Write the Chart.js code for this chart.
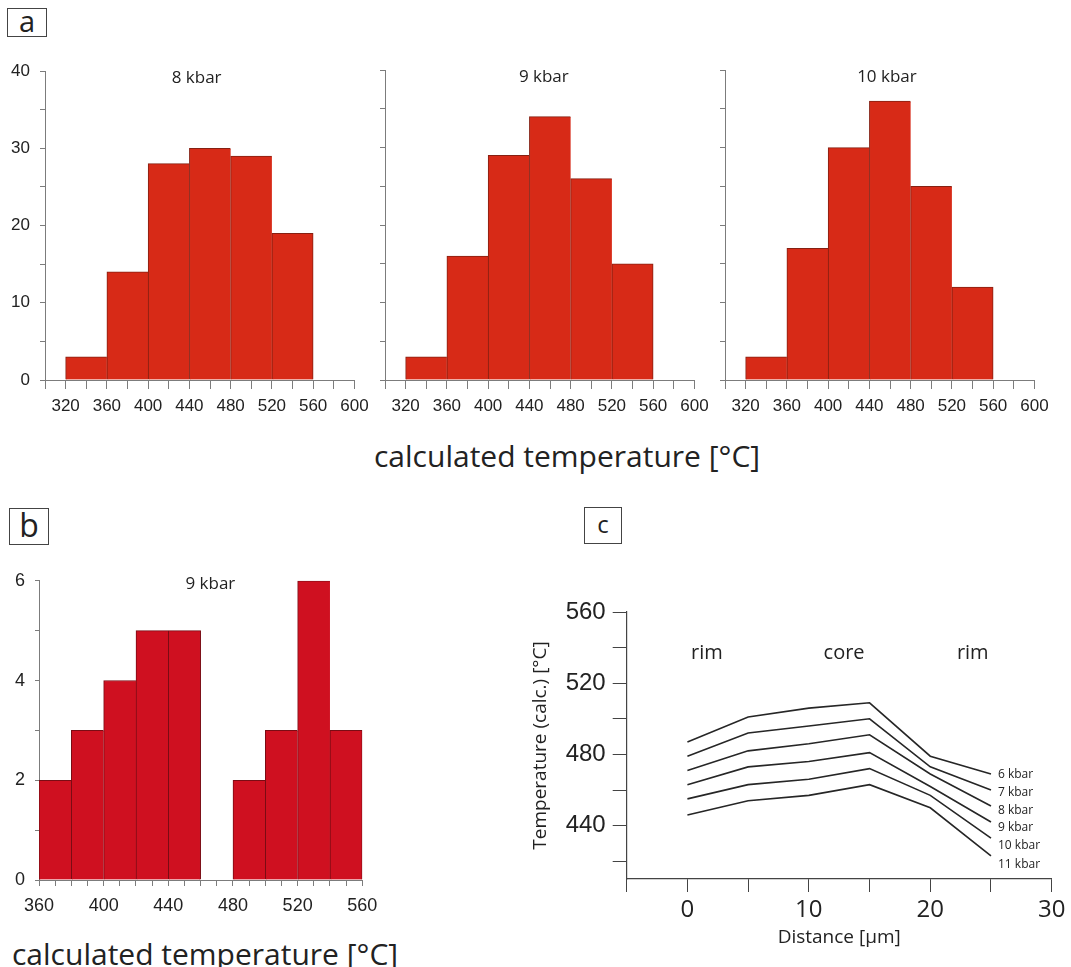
<!DOCTYPE html>
<html lang="en">
<head>
<meta charset="UTF-8">
<title>Calculated temperatures</title>
<script src="https://cdn.jsdelivr.net/npm/chart.js"></script>
<style>
  body {
    margin: 0;
    width: 1071px;
    height: 967px;
    position: relative;
    overflow: hidden;
    background: #fff;
    font-family: 'Open Sans', sans-serif;
    color: #222;
  }
  canvas { position: absolute; }
  .tag {
    position: absolute;
    box-sizing: border-box;
    border: 1px solid #444;
    display: flex;
    align-items: center;
    justify-content: center;
    line-height: 1;
    color: #222;
  }
  .axis-title {
    position: absolute;
    white-space: nowrap;
    line-height: 1;
    color: #222;
  }
</style>
</head>
<body>
<div class="tag" style="left:7px;top:8px;width:40px;height:29px;font-size:29px;padding-bottom:4px">a</div>
<div class="tag" style="left:9px;top:508px;width:40px;height:37px;font-size:32px;padding-bottom:3px">b</div>
<div class="tag" style="left:584px;top:507px;width:38px;height:37px;font-size:24px;padding-bottom:3px">c</div>

<canvas id="hist8" width="385" height="380" style="left:0;top:50px"></canvas>
<canvas id="hist9" width="365" height="380" style="left:360px;top:50px"></canvas>
<canvas id="hist10" width="371" height="380" style="left:700px;top:50px"></canvas>
<div class="axis-title" style="left:374px;top:441px;font-size:30px">calculated temperature [°C]</div>

<canvas id="histB" width="395" height="360" style="left:0;top:560px"></canvas>
<div class="axis-title" style="left:12px;top:939px;font-size:30px">calculated temperature [°C]</div>

<canvas id="profile" width="551" height="387" style="left:520px;top:580px"></canvas>

<script>
// panel a: histograms, bins 40 degC wide
const binStartsA = [320, 360, 400, 440, 480, 520];
const counts8kbar = [3, 14, 28, 30, 29, 19];
const counts9kbar = [3, 16, 29, 34, 26, 15];
const counts10kbar = [3, 17, 30, 36, 25, 12];
const xTicksA = [300, 320, 340, 360, 380, 400, 420, 440, 460, 480, 500, 520, 540, 560, 580, 600];
const xLabelsA = [320, 360, 400, 440, 480, 520, 560, 600];
const yTicksA = [0, 5, 10, 15, 20, 25, 30, 35, 40];
const yLabelsA = [0, 10, 20, 30, 40];

// panel b: 9 kbar, bins 20 degC wide (nothing in 460-480)
const binStartsB = [360, 380, 400, 420, 440, 480, 500, 520, 540];
const countsB = [2, 3, 4, 5, 5, 2, 3, 6, 3];
const xTicksB = [360, 370, 380, 390, 400, 410, 420, 430, 440, 450, 460, 470, 480, 490, 500, 510, 520, 530, 540, 550, 560];
const xLabelsB = [360, 400, 440, 480, 520, 560];
const yTicksB = [0, 1, 2, 3, 4, 5, 6];
const yLabelsB = [0, 2, 4, 6];

// panel c: temperature profiles across the grain
const distanceC = [0, 5, 10, 15, 20, 25];
const pressureNames = ['6 kbar', '7 kbar', '8 kbar', '9 kbar', '10 kbar', '11 kbar'];
const temp6kbar = [487, 501, 506, 509, 479, 469];
const temp7kbar = [479, 492, 496, 500, 473, 460];
const temp8kbar = [471, 482, 486, 491, 469, 451];
const temp9kbar = [463, 473, 476, 481, 462, 442];
const temp10kbar = [455, 463, 466, 472, 457, 433];
const temp11kbar = [446, 454, 457, 463, 450, 423];
const xTicksC = [-5, 0, 5, 10, 15, 20, 25, 30];
const xLabelsC = [0, 10, 20, 30];
const yTicksC = [420, 440, 460, 480, 500, 520, 540, 560];
const yLabelsC = [440, 480, 520, 560];
const zoneNames = ['rim', 'core', 'rim'];
const zoneDistance = [1.6, 12.9, 23.5];

const AXIS_GREY = '#7c7c7c';
const TEXT = '#222';
const TICK_FONT = 'Liberation Sans, Arial, sans-serif';
const LABEL_FONT = 'Open Sans, sans-serif';

// draws free text placed in data units, and names at the end of each line
const textPlugin = {
    id: 'panelText',
    afterDatasetsDraw(chart, args, opts) {
        const ctx = chart.ctx;
        const xs = chart.scales.x;
        const ys = chart.scales.y;
        ctx.save();
        ctx.fillStyle = TEXT;
        ctx.textBaseline = 'middle';
        (opts.items || []).forEach(it => {
            ctx.font = it.font;
            ctx.textAlign = 'center';
            ctx.fillText(it.text, xs.getPixelForValue(it.x), ys.getPixelForValue(it.y));
        });
        if (opts.seriesFont) {
            ctx.font = opts.seriesFont;
            ctx.textAlign = 'left';
            chart.data.datasets.forEach((ds, i) => {
                const pts = chart.getDatasetMeta(i).data;
                const end = pts[pts.length - 1];
                ctx.fillText(ds.label, end.x + 7, end.y + 1 + i * 1.6);
            });
        }
        ctx.restore();
    }
};

function makeHistogram(id, o) {
    const centers = o.binStarts.map(b => b + o.binWidth / 2);
    const last = o.binStarts.length - 1;
    return new Chart(document.getElementById(id), {
        type: 'bar',
        data: {
            datasets: [{
                data: centers.map((c, i) => ({ x: c, y: o.counts[i] })),
                xAxisID: 'xBin',
                backgroundColor: o.fill,
                borderColor: o.edge,
                borderWidth: ctx => {
                    const i = ctx.dataIndex;
                    const closes = i === last || o.binStarts[i + 1] !== o.binStarts[i] + o.binWidth;
                    return { top: 1, left: 1, right: closes ? 1 : 0, bottom: 0 };
                },
                borderSkipped: false,
                barPercentage: 1,
                categoryPercentage: 1
            }]
        },
        options: {
            responsive: false,
            animation: false,
            events: [],
            layout: { padding: o.padding },
            plugins: {
                legend: { display: false },
                tooltip: { enabled: false },
                panelText: { items: o.texts }
            },
            scales: {
                x: {
                    type: 'linear',
                    offset: false,
                    min: o.xMin,
                    max: o.xMax,
                    afterBuildTicks: s => { s.ticks = o.xTicks.map(v => ({ value: v })); },
                    afterFit: s => { s.height = o.xAxisHeight; },
                    grid: { offset: false, drawOnChartArea: false, drawTicks: true, tickLength: o.xTickLen, color: AXIS_GREY },
                    border: { color: AXIS_GREY },
                    ticks: {
                        autoSkip: false, maxRotation: 0, padding: o.xPad, color: TEXT,
                        font: { family: TICK_FONT, size: o.fontSize },
                        callback: v => o.xLabels.includes(v) ? String(v) : ''
                    }
                },
                // hidden twin axis so the bar width follows the bin width, not the tick spacing
                xBin: {
                    type: 'linear',
                    display: false,
                    offset: false,
                    min: o.xMin,
                    max: o.xMax,
                    afterBuildTicks: s => { s.ticks = centers.map(v => ({ value: v })); }
                },
                y: {
                    min: o.yMin,
                    max: o.yMax,
                    afterBuildTicks: s => { s.ticks = o.yTicks.map(v => ({ value: v })); },
                    afterFit: s => { s.width = o.yAxisWidth; },
                    grid: { drawOnChartArea: false, drawTicks: true, tickLength: o.yTickLen, color: AXIS_GREY },
                    border: { color: AXIS_GREY },
                    ticks: {
                        autoSkip: false, padding: o.yPad, color: TEXT,
                        font: { family: TICK_FONT, size: o.fontSize },
                        callback: v => o.yLabels.includes(v) ? String(v) : ''
                    }
                }
            }
        },
        plugins: [textPlugin]
    });
}

const panelA = {
    binStarts: binStartsA, binWidth: 40,
    xMin: 300, xMax: 600, xTicks: xTicksA, xLabels: xLabelsA,
    yMin: 0, yMax: 40, yTicks: yTicksA,
    fill: '#d72a17', edge: '#862012',
    xAxisHeight: 50, xTickLen: 9, xPad: 7,
    yTickLen: 5, yPad: 10, fontSize: 17
};
const titleFontA = '17px ' + LABEL_FONT;

makeHistogram('hist8', Object.assign({}, panelA, {
    counts: counts8kbar, yLabels: yLabelsA, yAxisWidth: 45,
    padding: { top: 21, right: 30.6, left: 0, bottom: 0 },
    texts: [{ text: '8 kbar', x: 447, y: 39.1, font: titleFontA }]
}));
makeHistogram('hist9', Object.assign({}, panelA, {
    counts: counts9kbar, yLabels: [], yAxisWidth: 25,
    padding: { top: 20, right: 30.6, left: 0, bottom: 0 },
    texts: [{ text: '9 kbar', x: 454, y: 39.1, font: titleFontA }]
}));
makeHistogram('hist10', Object.assign({}, panelA, {
    counts: counts10kbar, yLabels: [], yAxisWidth: 25,
    padding: { top: 20, right: 36.6, left: 0, bottom: 0 },
    texts: [{ text: '10 kbar', x: 457, y: 39.1, font: titleFontA }]
}));

makeHistogram('histB', {
    binStarts: binStartsB, binWidth: 20, counts: countsB,
    xMin: 360, xMax: 560, xTicks: xTicksB, xLabels: xLabelsB,
    yMin: 0, yMax: 6, yTicks: yTicksB, yLabels: yLabelsB,
    fill: '#cf1020', edge: '#7a0c14',
    xAxisHeight: 40, xTickLen: 6, xPad: 9, yAxisWidth: 39,
    yTickLen: 4, yPad: 10, fontSize: 18,
    padding: { top: 15, right: 32.7, left: 0, bottom: 0 },
    texts: [{ text: '9 kbar', x: 466, y: 5.93, font: '17px ' + LABEL_FONT }]
});

// panel c
const profiles = [temp6kbar, temp7kbar, temp8kbar, temp9kbar, temp10kbar, temp11kbar];

new Chart(document.getElementById('profile'), {
    type: 'line',
    data: {
        datasets: profiles.map((temps, k) => ({
            label: pressureNames[k],
            data: distanceC.map((d, i) => ({ x: d, y: temps[i] })),
            borderColor: '#262626',
            borderWidth: 1.6,
            pointRadius: 0,
            tension: 0,
            fill: false
        }))
    },
    options: {
        responsive: false,
        animation: false,
        events: [],
        layout: { padding: { top: 32, right: 19.3, left: 0, bottom: 0 } },
        plugins: {
            legend: { display: false },
            tooltip: { enabled: false },
            panelText: {
                items: zoneNames.map((t, i) => ({ text: t, x: zoneDistance[i], y: 537, font: '20px ' + LABEL_FONT })),
                seriesFont: '12px ' + LABEL_FONT
            }
        },
        scales: {
            x: {
                type: 'linear',
                min: -5,
                max: 30,
                afterBuildTicks: s => { s.ticks = xTicksC.map(v => ({ value: v })); },
                afterFit: s => { s.height = 88; },
                grid: { drawOnChartArea: false, drawTicks: true, tickLength: 13, color: '#444' },
                border: { color: '#444', width: 1.2 },
                ticks: {
                    autoSkip: false, maxRotation: 0, padding: 4, color: TEXT,
                    font: { family: LABEL_FONT, size: 24 },
                    callback: v => xLabelsC.includes(v) ? String(v) : ''
                },
                title: {
                    display: true, text: 'Distance [µm]', color: TEXT,
                    font: { family: LABEL_FONT, size: 19 },
                    padding: { top: 0, bottom: 18 }
                }
            },
            y: {
                min: 410,
                max: 560,
                afterBuildTicks: s => { s.ticks = yTicksC.map(v => ({ value: v })); },
                afterFit: s => { s.width = 106.7; },
                grid: { drawOnChartArea: false, drawTicks: true, tickLength: 14, color: '#444' },
                border: { color: '#444', width: 1.2 },
                ticks: {
                    autoSkip: false, padding: 7, color: TEXT,
                    font: { family: TICK_FONT, size: 24 },
                    callback: v => yLabelsC.includes(v) ? String(v) : ''
                },
                title: {
                    display: true, text: 'Temperature (calc.) [°C]', color: TEXT,
                    font: { family: LABEL_FONT, size: 19 },
                    padding: { top: 9.6, bottom: 0 }
                }
            }
        }
    },
    plugins: [textPlugin]
});
</script>
</body>
</html>
